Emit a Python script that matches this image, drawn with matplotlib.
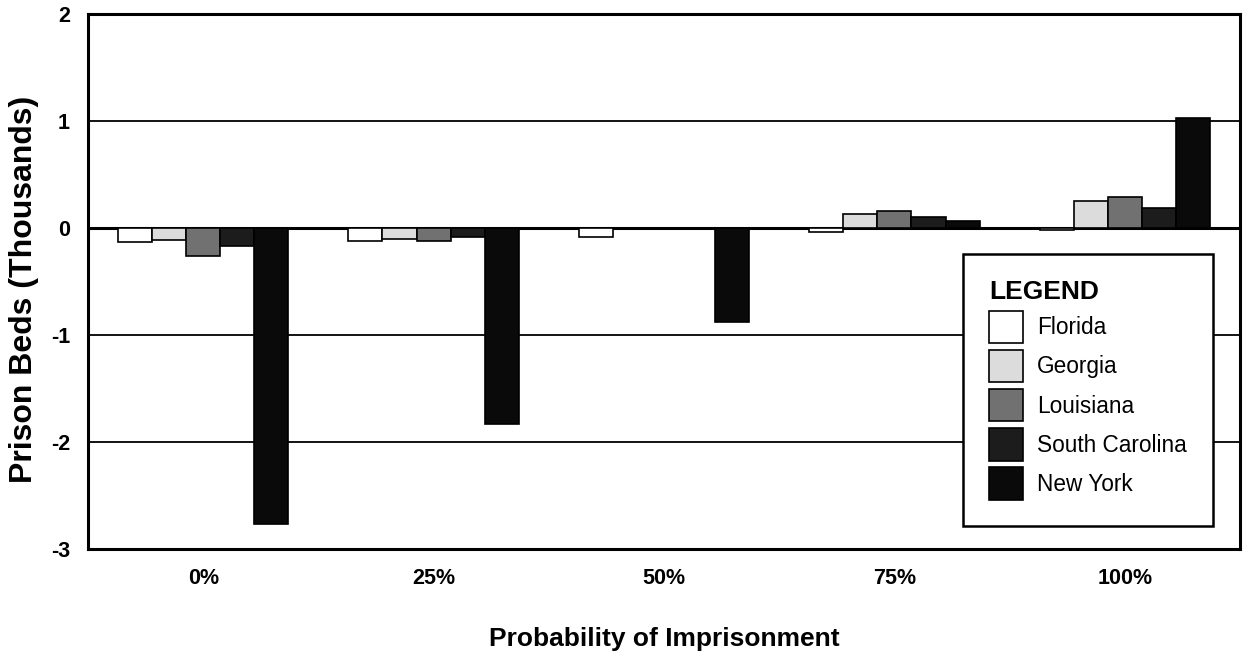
#!/usr/bin/env python
# -*- coding: utf-8 -*-

import sys
import numpy as np
import matplotlib
matplotlib.use("Agg")
import matplotlib.pyplot as plt

# change in prison beds (thousands) by probability of imprisonment
categories = ["0%", "25%", "50%", "75%", "100%"]
states = ["Florida", "Georgia", "Louisiana", "South Carolina", "New York"]

florida = [-0.13, -0.12, -0.08, -0.04, -0.02]
georgia = [-0.11, -0.10, 0.0, 0.13, 0.25]
louisiana = [-0.26, -0.12, 0.0, 0.16, 0.29]
south_carolina = [-0.17, -0.08, 0.0, 0.10, 0.19]
new_york = [-2.77, -1.83, -0.88, 0.07, 1.03]

series = [florida, georgia, louisiana, south_carolina, new_york]
colors = ["#ffffff", "#dcdcdc", "#717171", "#1c1c1c", "#0a0a0a"]


def main():
    plt.rcParams["font.family"] = ["Liberation Sans", "DejaVu Sans"]
    fig = plt.figure(figsize=(12.45, 6.57), dpi=100)
    ax = fig.add_axes([0.0707, 0.1644, 0.9253, 0.8143])

    x = np.arange(len(categories))
    width = 0.148
    for i, (vals, name, col) in enumerate(zip(series, states, colors)):
        ax.bar(x + (i - 2) * width, vals, width, color=col, edgecolor="black",
               linewidth=1.2, label=name, zorder=3)

    ax.set_xlim(-0.5, len(categories) - 0.5)
    ax.set_ylim(-3, 2)
    ax.set_yticks([-3, -2, -1, 0, 1, 2])
    ax.set_xticks(x)
    ax.set_xticklabels(categories, fontsize=15.5, fontweight="bold")
    ax.set_yticklabels(["-3", "-2", "-1", "0", "1", "2"], fontsize=15.5, fontweight="bold")
    ax.tick_params(axis="x", length=0, pad=14)
    ax.tick_params(axis="y", length=0, pad=13)

    for yv in [-2, -1, 1]:
        ax.axhline(yv, color="black", linewidth=1.3, zorder=1)
    ax.axhline(0, color="black", linewidth=2.2, zorder=2)

    for sp in ax.spines.values():
        sp.set_linewidth(2.2)

    ax.set_ylabel("Prison Beds (Thousands)", fontsize=23, fontweight="bold")
    ax.yaxis.set_label_coords(-0.0425, 0.485)
    ax.set_xlabel("Probability of Imprisonment", fontsize=19, fontweight="bold")
    ax.xaxis.set_label_coords(0.5, -0.145)

    leg = ax.legend(loc="upper left", bbox_to_anchor=(0.7595, 0.5514),
                    title="LEGEND", fontsize=16.3,
                    title_fontproperties={"weight": "bold", "size": 19},
                    alignment="left", frameon=True, fancybox=False,
                    handlelength=1.5, handleheight=1.82, handletextpad=0.62,
                    labelspacing=0.3, borderpad=1.15, borderaxespad=0)
    leg.get_frame().set_edgecolor("black")
    leg.get_frame().set_linewidth(1.8)
    leg.get_frame().set_alpha(1)
    leg.set_zorder(5)

    fig.savefig("out.png", dpi=100)


if __name__ == '__main__':
    sys.exit(main())
